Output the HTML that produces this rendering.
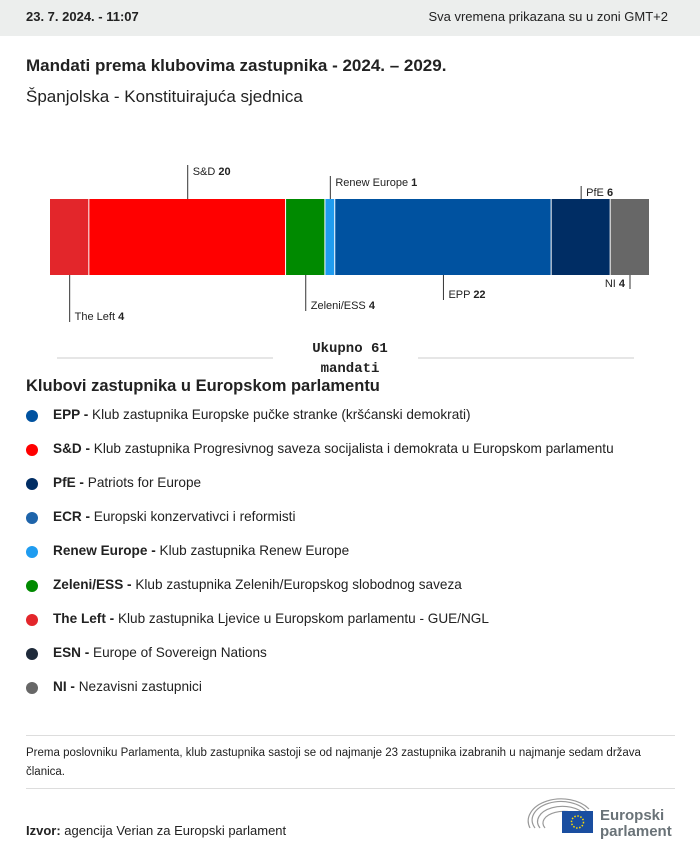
<!DOCTYPE html>
<html><head><meta charset="utf-8"><style>
body{margin:0;width:700px;height:856px;background:#fff;font-family:"Liberation Sans",sans-serif;color:#222;position:relative;overflow:hidden}
.abs{position:absolute;white-space:nowrap}
.hdr{position:absolute;left:0;top:0;width:700px;height:36px;background:#eceeed}
.leg{position:absolute;left:26px;font-size:13.6px}
.leg .dot{position:absolute;left:0;top:3px;width:12px;height:12px;border-radius:50%}
.leg span.t{position:absolute;left:27px;top:0;white-space:nowrap}
</style></head><body>
<div class="hdr"></div>
<div class="abs" style="left:26px;top:9px;font-size:13px;font-weight:bold">23. 7. 2024. - 11:07</div>
<div class="abs" style="right:32px;top:9px;font-size:13px">Sva vremena prikazana su u zoni GMT+2</div>
<div class="abs" style="left:26px;top:56px;font-size:17px;font-weight:bold">Mandati prema klubovima zastupnika - 2024. – 2029.</div>
<div class="abs" style="left:26px;top:87px;font-size:17px">Španjolska - Konstituirajuća sjednica</div>
<svg id="chart" width="700" height="380" style="position:absolute;left:0;top:0"></svg>
<div class="abs" style="left:0;width:700px;text-align:center;top:339px;font-family:'Liberation Mono',monospace;font-weight:bold;font-size:14px;line-height:20px">Ukupno 61<br>mandati</div>
<div class="abs" style="left:26px;top:377px;font-size:16.5px;font-weight:bold">Klubovi zastupnika u Europskom parlamentu</div>
<div id="legend"></div>
<div class="abs" style="left:26px;top:735px;width:649px;height:1px;background:#ddd"></div>
<div class="abs" style="left:26px;top:744px;font-size:11.5px;line-height:19px;white-space:normal;width:635px">Prema poslovniku Parlamenta, klub zastupnika sastoji se od najmanje 23 zastupnika izabranih u najmanje sedam država članica.</div>
<div class="abs" style="left:26px;top:788px;width:649px;height:1px;background:#ddd"></div>
<div class="abs" style="left:26px;top:823px;font-size:13px"><b>Izvor:</b> agencija Verian za Europski parlament</div>
<svg width="160" height="50" style="position:absolute;top:795px;left:527px">
<g fill="none" stroke="#999" stroke-width="1.2">
<path d="M3 33 A33 22 0 0 1 62 14"/><path d="M8 33 A28 18 0 0 1 60 17"/><path d="M13 33 A23 14 0 0 1 58 20"/><path d="M18 33 A18 10 0 0 1 56 23"/>
</g>
<rect x="35" y="16" width="31" height="22" fill="#1a4ea0"/>
<circle cx="50.5" cy="27" r="6" fill="none" stroke="#ffdd00" stroke-width="1.5" stroke-dasharray="1.5 1.6"/>
<text x="73" y="25" font-family="Liberation Sans" font-weight="bold" font-size="15" fill="#6a7378">Europski</text>
<text x="73" y="41" font-family="Liberation Sans" font-weight="bold" font-size="15" fill="#6a7378">parlament</text>
</svg>
<script>
const parties=["The Left","S&D","Zeleni/ESS","Renew Europe","EPP","PfE","NI"];
const seats=[4,20,4,1,22,6,4];
const colors=["#e3262b","#ff0000","#008a00","#1f9cf0","#0052a0","#002d64","#676767"];
const labelPos=["below","above","below","above","below","above","below"];
const labelY=[316,171,305,182,294,192,283];
const svg=document.getElementById('chart');
const NS="http://www.w3.org/2000/svg";
const total=seats.reduce((a,b)=>a+b,0);
const x0=50,W=600,barTop=199,barH=76;
const xs=v=>x0+v*W/total;
let cum=0;
parties.forEach((p,i)=>{
  const xa=xs(cum),xb=xs(cum+seats[i]);cum+=seats[i];
  const r=document.createElementNS(NS,'rect');
  r.setAttribute('x',xa);r.setAttribute('y',barTop);r.setAttribute('width',Math.max(xb-xa-1,1));r.setAttribute('height',barH);r.setAttribute('fill',colors[i]);
  
  
  svg.appendChild(r);
  const mid=(xa+xb)/2;const ly=labelY[i];
  const ln=document.createElementNS(NS,'line');
  const isNI=(i===parties.length-1);
  const lx=isNI?xb-20:mid;
  ln.setAttribute('x1',lx);ln.setAttribute('x2',lx);
  if(labelPos[i]==='above'){ln.setAttribute('y1',ly-6);ln.setAttribute('y2',barTop);}
  else{ln.setAttribute('y1',barTop+barH);ln.setAttribute('y2',ly+6);}
  ln.setAttribute('stroke','#333');ln.setAttribute('stroke-width','1');
  
  
  svg.appendChild(ln);
  const t=document.createElementNS(NS,'text');
  t.setAttribute('y',ly+4);t.setAttribute('font-size','11');t.setAttribute('fill','#222');
  t.setAttribute('font-family','Liberation Sans');
  if(isNI){t.setAttribute('x',lx-5);t.setAttribute('text-anchor','end');}else t.setAttribute('x',lx+5);
  t.innerHTML=p.replace('&','&amp;')+' <tspan font-weight="bold">'+seats[i]+'</tspan>';
  
  
  svg.appendChild(t);
});
[[57,273],[418,634]].forEach(([a,b])=>{
  const l=document.createElementNS(NS,'line');
  l.setAttribute('x1',a);l.setAttribute('x2',b);l.setAttribute('y1',358);l.setAttribute('y2',358);l.setAttribute('stroke','#ccc');
  
  
  svg.appendChild(l);
});
const legAbbr=["EPP","S&D","PfE","ECR","Renew Europe","Zeleni/ESS","The Left","ESN","NI"];
const legDesc=["Klub zastupnika Europske pučke stranke (kršćanski demokrati)","Klub zastupnika Progresivnog saveza socijalista i demokrata u Europskom parlamentu","Patriots for Europe","Europski konzervativci i reformisti","Klub zastupnika Renew Europe","Klub zastupnika Zelenih/Europskog slobodnog saveza","Klub zastupnika Ljevice u Europskom parlamentu - GUE/NGL","Europe of Sovereign Nations","Nezavisni zastupnici"];
const legCol=["#0052a0","#ff0000","#002d64","#1e64aa","#1f9cf0","#008a00","#e3262b","#1e2a3a","#676767"];
const lg=document.getElementById('legend');
legAbbr.forEach((a,i)=>{
  const d=document.createElement('div');d.className='leg';d.style.top=(407+i*34)+'px';
  
  
  const dot=document.createElement('div');dot.className='dot';dot.style.background=legCol[i];
  
  
  const t=document.createElement('span');t.className='t';
  const b=document.createElement('b');b.textContent=a+' - ';t.appendChild(b);t.appendChild(document.createTextNode(legDesc[i]));
  d.appendChild(dot);d.appendChild(t);lg.appendChild(d);
});
</script>
</body></html>
